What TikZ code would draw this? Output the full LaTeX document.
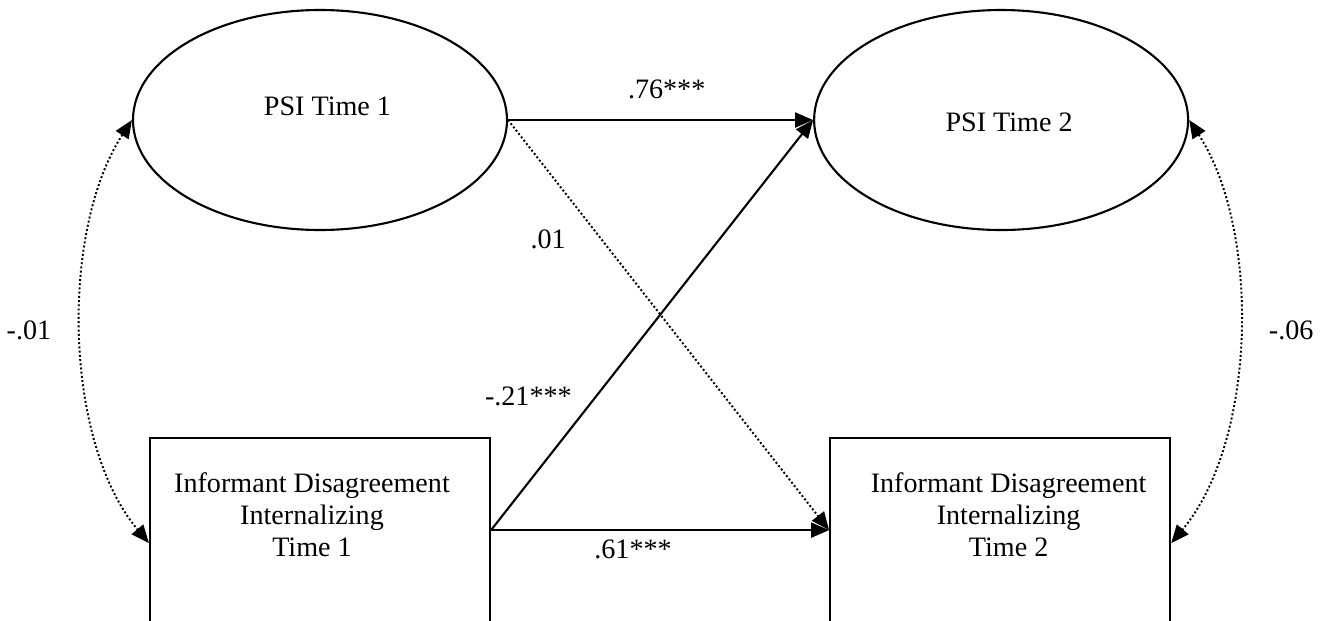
\documentclass[tikz,border=0pt]{standalone}
\usepackage{fontspec}
\setmainfont{Liberation Serif}
\usetikzlibrary{arrows.meta,positioning,shapes.geometric}

\begin{document}
\begin{tikzpicture}[
    lat/.style={draw,ellipse,line width=1.2pt,minimum width=7.48cm,minimum height=4.4cm,inner sep=0pt},
    obs/.style={draw,rectangle,line width=1.2pt,minimum width=6.8cm,minimum height=4.2cm,inner sep=0pt},
    txt/.style={align=center,inner sep=0pt,font=\fontsize{16}{18.4}\selectfont},
    arr/.style={-{Triangle[length=0.36cm,width=0.3cm]},line width=1.2pt},
    ns/.style={arr,line width=1.1pt,dash pattern=on 1.1pt off 1.3pt},
    cov/.style={{Triangle[length=0.36cm,width=0.3cm]}-{Triangle[length=0.36cm,width=0.3cm]},line width=1.1pt,dash pattern=on 1.1pt off 1.3pt,looseness=0.8}
]
\clip (0,0) rectangle (26.5,-12.4);

% latent variables
\node[lat] (psi1) at (6.4,-2.4) {};
\node[lat,right=6.1cm of psi1] (psi2) {};
\node[txt] (psi1txt) at ([xshift=0.15cm,yshift=0.28cm]psi1.center) {PSI Time 1};
\node[txt] (psi2txt) at ([xshift=0.16cm,yshift=-0.05cm]psi2.center) {PSI Time 2};

% observed variables
\node[obs,below=4.12cm of psi1] (idt1) {};
\node[obs,right=6.76cm of idt1] (idt2) {};
\node[txt,below=0.7cm of idt1.north,xshift=-0.16cm] (idt1txt) {Informant Disagreement\\Internalizing\\Time 1};
\node[txt,below=0.7cm of idt2.north,xshift=0.17cm] (idt2txt) {Informant Disagreement\\Internalizing\\Time 2};

% paths
\draw[arr] (psi1.east) -- node[txt,pos=0.52,yshift=0.62cm] (l76) {.76***} (psi2.west);
\draw[arr] ([yshift=0.26cm]idt1.east) -- node[txt,pos=0.42,yshift=-0.38cm] (l61) {.61***} ([yshift=0.26cm]idt2.west);
\draw[ns] (psi1.east) -- node[txt,pos=0.29,xshift=-1.06cm] (l01) {.01} ([yshift=0.26cm]idt2.west);
\draw[arr] ([yshift=0.26cm]idt1.east) -- node[txt,pos=0.327,xshift=-1.36cm] (l21) {-.21***} (psi2.west);

% covariances
\draw[cov] (psi1.west) to[out=237,in=130] node[txt,midway,xshift=-1.05cm,yshift=0.1cm] (c1) {-.01} (idt1.west);
\draw[cov] (psi2.east) to[out=-57,in=50] node[txt,midway,xshift=1.04cm,yshift=0.1cm] (c2) {-.06} (idt2.east);
\end{tikzpicture}
\end{document}
